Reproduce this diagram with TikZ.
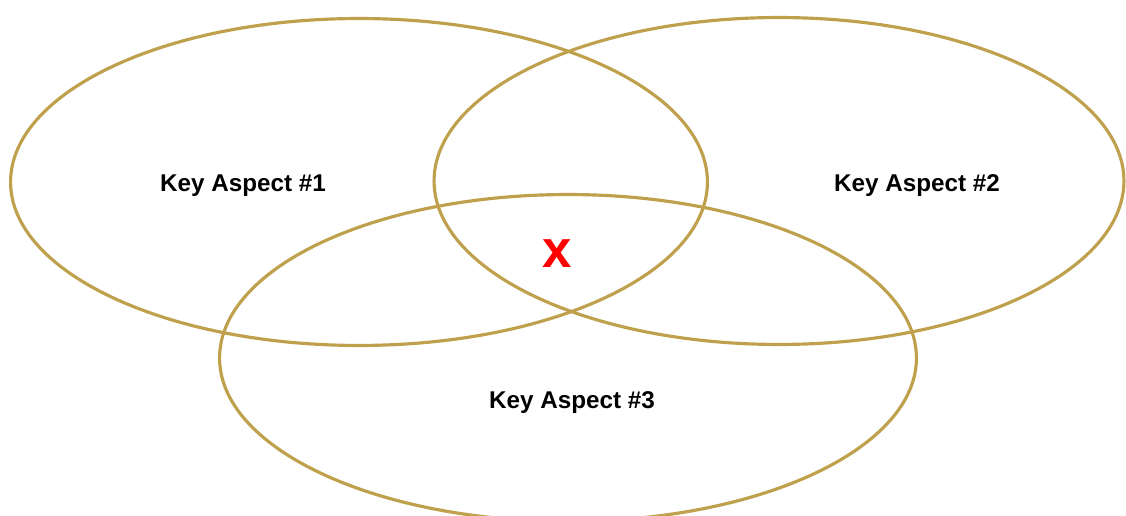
\documentclass[tikz,border=0pt]{standalone}
\usepackage{fontspec}
\setmainfont{Liberation Sans}
\usetikzlibrary{shapes.geometric}
\definecolor{RingGold}{HTML}{BFA04C}
\definecolor{MarkRed}{HTML}{FF0000}
\tikzset{
  ring/.style={draw=RingGold, line width=1.8pt, ellipse, inner sep=0pt,
    minimum width=13.94cm, minimum height=6.54cm},
  aspect/.style={font=\bfseries\fontsize{13.8}{15}\selectfont, text=black},
  xmark/.style={font=\bfseries\fontsize{30}{31}\selectfont, text=MarkRed},
}
\begin{document}
\begin{tikzpicture}[x=0.02cm, y=-0.02cm]
    \useasboundingbox (0,0) rectangle (1126,516);
    \node[ring] (first) at (359,182) {};
    \node[ring, minimum width=13.8cm] (second) at (779,181) {};
    \node[ring] (third) at (568,358) {};
    \node[aspect] (l1) at (243,186) {Key Aspect \#1};
    \node[aspect] (l2) at (917,186) {Key Aspect \#2};
    \node[aspect] (l3) at (572,403) {Key Aspect \#3};
    \node[xmark] (core) at (557,254) {x};
  \end{tikzpicture}
\end{document}
